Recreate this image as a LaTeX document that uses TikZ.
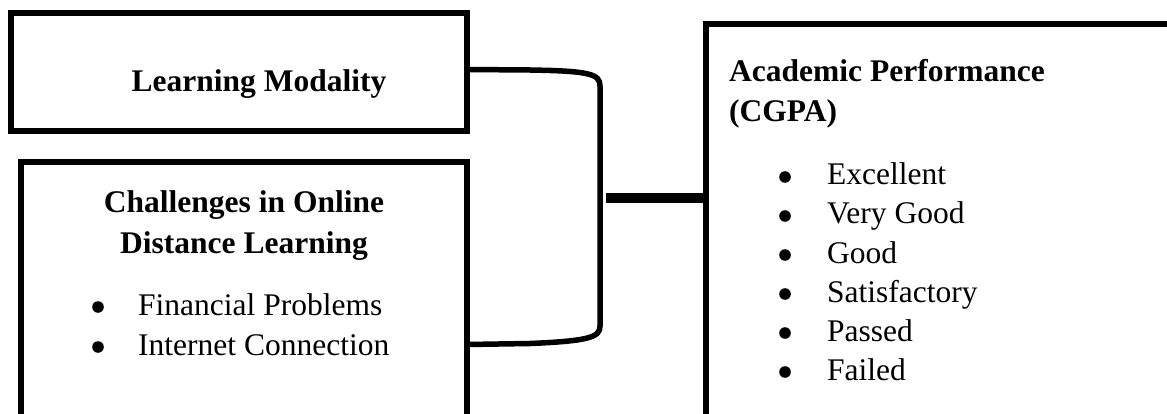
\documentclass[tikz,border=0pt]{standalone}
\usepackage{fontspec}
\setmainfont{Liberation Serif}
\begin{document}
\begin{tikzpicture}[x=1pt,y=-1pt,
  box/.style={draw, line width=5.5pt, inner sep=0pt, outer sep=0pt, anchor=north west},
  conn/.style={line width=5.5pt},
  thick conn/.style={line width=10pt},
  txt/.style={inner sep=0pt, font=\fontsize{31.5}{39}\selectfont},
  ttl/.style={txt, font=\fontsize{31.5}{39}\selectfont\bfseries},
  itm/.style={txt, anchor=base west}]
\useasboundingbox (0,0) rectangle (1167,414);
% boxes
\node[box, minimum width=456pt, minimum height=118pt] (b1) at (11,13) {};
\node[box, minimum width=446pt, minimum height=290pt] (b2) at (21,162) {};
\node[box, minimum width=490pt, minimum height=420pt] (b3) at (706,24) {};
% texts
\node[ttl, anchor=base] (t1) at (259,92) {Learning Modality};
\node[ttl, anchor=base] (t2a) at (244,213) {Challenges in Online};
\node[ttl, anchor=base] (t2b) at (244,253) {Distance Learning};
\node[itm] (i21) at (138,315) {Financial Problems};
\node[itm] (i22) at (138,355) {Internet Connection};
\node[ttl, anchor=base west] (t3a) at (729,82) {Academic Performance};
\node[ttl, anchor=base west] (t3b) at (729,122) {(CGPA)};
\node[itm] (i31) at (827,185) {Excellent};
\node[itm] (i32) at (827,224) {Very Good};
\node[itm] (i33) at (827,263) {Good};
\node[itm] (i34) at (827,302) {Satisfactory};
\node[itm] (i35) at (827,341) {Passed};
\node[itm] (i36) at (827,380) {Failed};
% bullets
\foreach \yy in {307,347} \fill (98,\yy) circle (5.8pt);
\foreach \yy in {177,216,255,294,333,372} \fill (785,\yy) circle (5.8pt);
% connectors
\coordinate (ya) at (0,69.5);
\coordinate (yb) at (0,344.5);
\draw[conn] (b1.east |- ya) -- (530,70) .. controls (590,71) and (600,74) .. (600,86)
  -- (600,326) .. controls (600,337) and (590,341) .. (530,343.5) -- (b2.east |- yb);
\coordinate (tj) at (606,198);
\draw[thick conn] (tj) -- (tj -| b3.west);
\end{tikzpicture}
\end{document}
